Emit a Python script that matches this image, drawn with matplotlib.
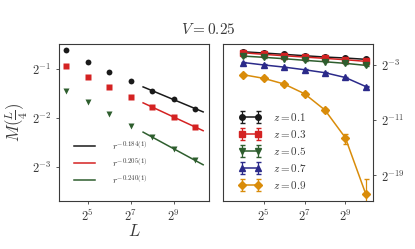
import numpy as np
import matplotlib
matplotlib.use("Agg")
import matplotlib.pyplot as plt

plt.rcParams["mathtext.fontset"] = "cm"
plt.rcParams["font.family"] = "serif"
plt.rcParams["font.serif"] = ["DejaVu Serif"]

# system sizes (log2 L)
L = 2.0 ** np.arange(4, 11)

# left panel: M(L/4), log2 values
left_k = [-0.605, -0.857, -1.061, -1.246, -1.439, -1.615, -1.807]
left_r = [-0.926, -1.152, -1.363, -1.568, -1.773, -1.977, -2.182]
left_g = [-1.439, -1.676, -1.916, -2.156, -2.387, -2.633, -2.865]
fit_exp = [0.184, 0.205, 0.240]
fit_lab = [r"$r^{-0.184(1)}$", r"$r^{-0.205(1)}$", r"$r^{-0.240(1)}$"]

# right panel: different z, log2 values
z_vals = [0.1, 0.3, 0.5, 0.7, 0.9]
right_1 = [-1.16, -1.34, -1.53, -1.73, -1.92, -2.06, -2.25]
right_3 = [-1.30, -1.53, -1.73, -1.92, -2.11, -2.31, -2.54]
right_5 = [-1.78, -1.96, -2.16, -2.39, -2.60, -2.83, -3.12]
right_7 = [-2.71, -3.06, -3.37, -3.75, -4.18, -4.87, -6.17]
right_9 = [-4.47, -4.99, -5.81, -7.21, -9.56, -13.55, -21.66]
rel_err_9 = [0.06, 0.06, 0.06, 0.08, 0.15, 0.45, 3.5]

cols = ["#1a1a1a", "#d42222", "#2e5e2e", "#2b2a8a", "#d98c0a"]
marks = ["o", "s", "v", "^", "D"]
gray = "#3a3a3a"

fig = plt.figure(figsize=(4.15, 2.49), dpi=100)
ax1 = fig.add_axes([0.142, 0.193, 0.362, 0.630])
ax2 = fig.add_axes([0.537, 0.193, 0.362, 0.630])

for ax in (ax1, ax2):
    ax.set_xscale("log", base=2)
    ax.set_yscale("log", base=2)
    for s in ax.spines.values():
        s.set_color(gray)
        s.set_linewidth(0.8)
    ax.tick_params(which="both", length=2, width=0.6, colors=gray, labelsize=9)
    ax.minorticks_off()

# left panel
left = [left_k, left_r, left_g]
for i, vals in enumerate(left):
    y = 2.0 ** np.array(vals)
    ax1.plot(L, y, marks[i], color=cols[i], ms=4.2, mec="none", ls="none")
    # line through the last three points with the fitted exponent
    p = fit_exp[i]
    A = np.mean(np.array(vals[-3:]) + p * np.log2(L[-3:]))
    xf = 2.0 ** np.linspace(7.58, 10.37, 20)
    ax1.plot(xf, 2.0 ** A * xf ** (-p), color=cols[i], lw=1.1, label=fit_lab[i])

ax1.set_xlim(2 ** 3.67, 2 ** 10.65)
ax1.set_ylim(2 ** -3.70, 2 ** -0.48)
ax1.set_xticks([2 ** 5, 2 ** 7, 2 ** 9], [r"$2^5$", r"$2^7$", r"$2^9$"])
ax1.set_yticks([2 ** -1, 2 ** -2, 2 ** -3], [r"$2^{-1}$", r"$2^{-2}$", r"$2^{-3}$"])
ax1.set_xlabel(r"$L$", fontsize=12, color=gray, labelpad=-1)
ax1.set_ylabel(r"$M(\frac{L}{4})$", fontsize=12, color=gray, labelpad=1)
leg1 = ax1.legend(loc="lower left", bbox_to_anchor=(0.04, 0.04), frameon=False,
                  fontsize=7, handlelength=2.2, labelspacing=0.45, handletextpad=1.7)
for t in leg1.get_texts():
    t.set_color(gray)

# right panel
right = [right_1, right_3, right_5, right_7, right_9]
for i, vals in enumerate(right):
    y = 2.0 ** np.array(vals)
    if i == 4:
        err = y * np.array(rel_err_9)
    else:
        err = y * 0.05
    ax2.errorbar(L, y, yerr=err, marker=marks[i], color=cols[i], ms=3.6 if i == 4 else 4,
                 lw=1.1, capsize=1.8, elinewidth=0.9, label=r"$z=%.1f$" % z_vals[i])

ax2.set_xlim(2 ** 3.0, 2 ** 10.36)
ax2.set_ylim(2 ** -22.67, 2 ** -0.05)
ax2.set_xticks([2 ** 5, 2 ** 7, 2 ** 9], [r"$2^5$", r"$2^7$", r"$2^9$"])
ax2.set_yticks([2 ** -3, 2 ** -11, 2 ** -19], [r"$2^{-3}$", r"$2^{-11}$", r"$2^{-19}$"])
ax2.yaxis.tick_right()
ax2.tick_params(which="both", length=2, width=0.6, colors=gray)
leg2 = ax2.legend(loc="lower left", bbox_to_anchor=(0.04, 0.0), frameon=False,
                  fontsize=8, numpoints=2, handlelength=2.0, labelspacing=0.45, handletextpad=1.1)
for t in leg2.get_texts():
    t.set_color(gray)

fig.text(0.502, 0.88, r"$V=0.25$", ha="center", va="center", fontsize=11, color=gray)

fig.savefig("out.png", dpi=100)
